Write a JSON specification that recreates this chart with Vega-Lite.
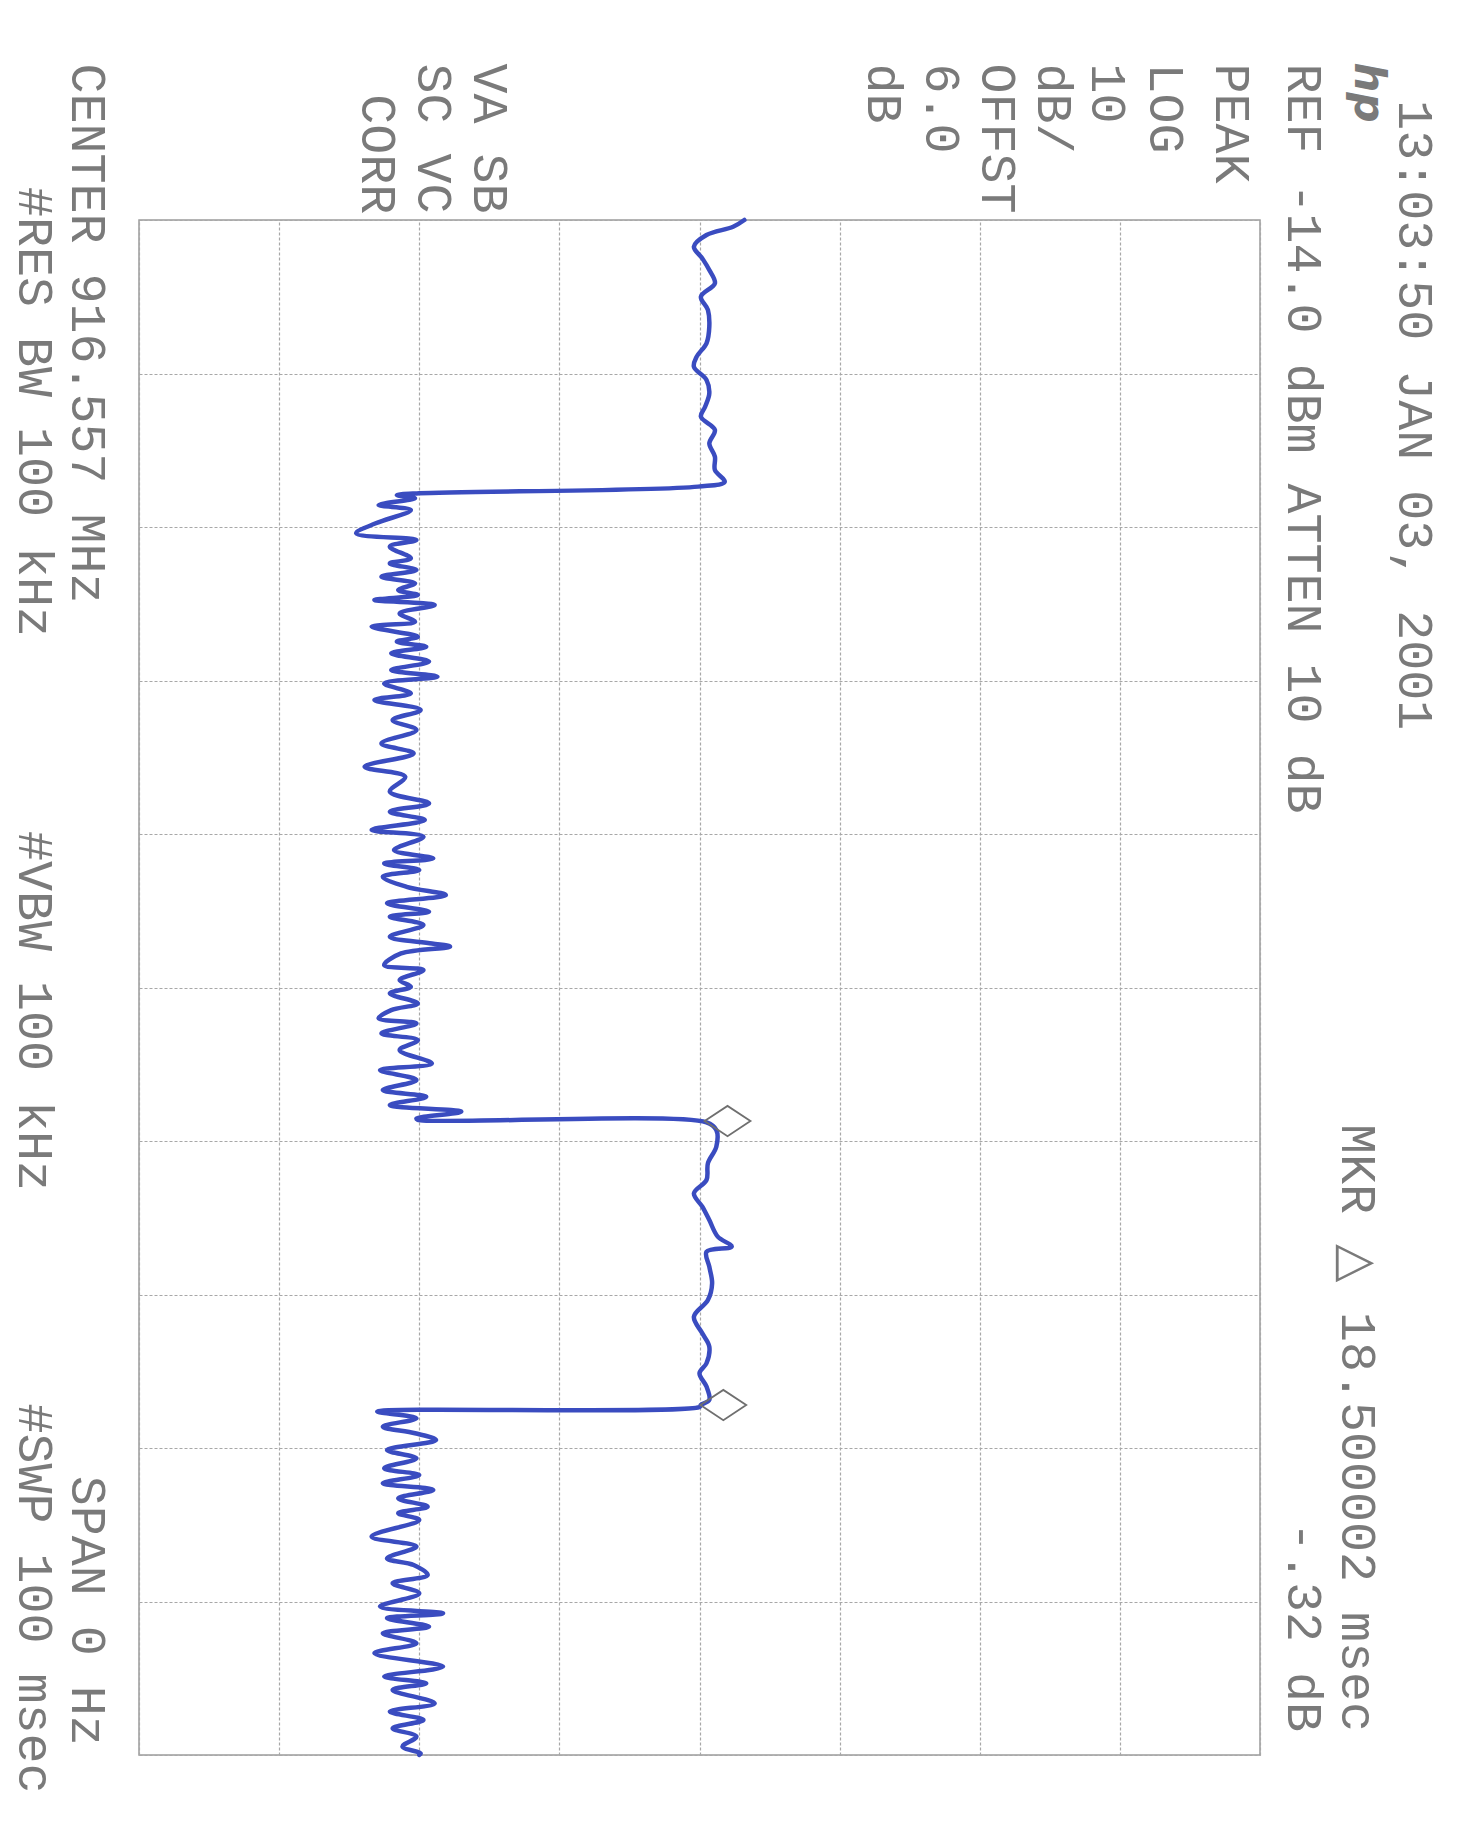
{
  "$schema": "https://vega.github.io/schema/vega-lite/v6.json",
  "width": 1121,
  "height": 1535,
  "autosize": {"type": "none"},
  "padding": {"left": 139, "top": 220, "right": 210, "bottom": 80},
  "background": "white",
  "config": {
    "view": {"stroke": "#9c9c9c", "strokeWidth": 1.5},
    "axis": {
      "labels": false, "ticks": false, "domain": false, "title": null,
      "grid": true, "gridColor": "#a8a8a8", "gridDash": [3, 2], "gridWidth": 1.2
    }
  },
  "datasets": {
    "trace": [
      {"t": 0, "db": -50.8}, {"t": 0.44, "db": -51.6}, {"t": 0.98, "db": -53.5}, {"t": 1.74, "db": -54.4},
      {"t": 2.5, "db": -53.8}, {"t": 3.26, "db": -53.3}, {"t": 4.12, "db": -52.9}, {"t": 5.0, "db": -53.9},
      {"t": 5.86, "db": -53.4}, {"t": 6.95, "db": -53.3}, {"t": 8.03, "db": -53.5}, {"t": 8.9, "db": -54.2},
      {"t": 9.56, "db": -54.4}, {"t": 10.42, "db": -53.5}, {"t": 11.29, "db": -53.3}, {"t": 12.16, "db": -53.6},
      {"t": 12.81, "db": -53.9}, {"t": 13.68, "db": -52.9}, {"t": 14.55, "db": -53.3}, {"t": 15.42, "db": -52.9},
      {"t": 16.29, "db": -52.9}, {"t": 17.05, "db": -52.2}, {"t": 17.37, "db": -54.1}, {"t": 17.8, "db": -74.0},
      {"t": 17.92, "db": -75.6}, {"t": 18.13, "db": -74.3}, {"t": 18.57, "db": -76.9}, {"t": 18.89, "db": -74.6},
      {"t": 19.76, "db": -77.1}, {"t": 20.41, "db": -78.5}, {"t": 20.85, "db": -74.2}, {"t": 21.28, "db": -76.1},
      {"t": 22.04, "db": -74.6}, {"t": 22.37, "db": -76.1}, {"t": 22.8, "db": -74.2}, {"t": 23.24, "db": -76.7},
      {"t": 23.67, "db": -74.3}, {"t": 24.11, "db": -75.5}, {"t": 24.43, "db": -74.1}, {"t": 24.76, "db": -77.2},
      {"t": 25.08, "db": -72.9}, {"t": 25.63, "db": -75.4}, {"t": 26.17, "db": -74.3}, {"t": 26.49, "db": -77.4},
      {"t": 27.15, "db": -74.1}, {"t": 27.47, "db": -75.6}, {"t": 27.8, "db": -73.5}, {"t": 28.23, "db": -76.0},
      {"t": 28.77, "db": -73.3}, {"t": 29.32, "db": -76.0}, {"t": 29.75, "db": -72.7}, {"t": 30.19, "db": -76.5},
      {"t": 30.84, "db": -74.6}, {"t": 31.27, "db": -77.2}, {"t": 31.92, "db": -73.9}, {"t": 32.58, "db": -75.9},
      {"t": 33.23, "db": -74.2}, {"t": 34.1, "db": -76.7}, {"t": 34.75, "db": -74.4}, {"t": 35.62, "db": -77.9},
      {"t": 36.27, "db": -75.0}, {"t": 37.24, "db": -76.1}, {"t": 38.0, "db": -73.3}, {"t": 38.55, "db": -76.1},
      {"t": 39.09, "db": -73.6}, {"t": 39.74, "db": -77.4}, {"t": 40.18, "db": -73.7}, {"t": 41.05, "db": -75.8},
      {"t": 41.59, "db": -73.0}, {"t": 41.92, "db": -76.5}, {"t": 42.35, "db": -74.0}, {"t": 42.78, "db": -76.6},
      {"t": 43.44, "db": -74.9}, {"t": 43.98, "db": -72.1}, {"t": 44.52, "db": -76.3}, {"t": 45.06, "db": -73.3},
      {"t": 45.39, "db": -76.1}, {"t": 45.93, "db": -73.7}, {"t": 46.69, "db": -76.1}, {"t": 47.13, "db": -73.1},
      {"t": 47.34, "db": -71.8}, {"t": 47.78, "db": -75.3}, {"t": 48.54, "db": -76.5}, {"t": 48.86, "db": -73.7},
      {"t": 49.52, "db": -75.4}, {"t": 49.95, "db": -74.6}, {"t": 50.38, "db": -76.1}, {"t": 51.04, "db": -74.1},
      {"t": 51.47, "db": -76.0}, {"t": 52.01, "db": -76.9}, {"t": 52.34, "db": -74.2}, {"t": 52.99, "db": -76.7},
      {"t": 53.43, "db": -74.1}, {"t": 54.08, "db": -75.4}, {"t": 54.95, "db": -73.1}, {"t": 55.38, "db": -76.8},
      {"t": 56.03, "db": -74.2}, {"t": 56.68, "db": -76.6}, {"t": 57.12, "db": -73.5}, {"t": 57.66, "db": -76.1},
      {"t": 58.09, "db": -71.0}, {"t": 58.53, "db": -74.2}, {"t": 58.62, "db": -74.1}, {"t": 58.78, "db": -53.5},
      {"t": 59.28, "db": -52.8}, {"t": 60.37, "db": -52.8}, {"t": 61.45, "db": -53.4}, {"t": 62.54, "db": -53.5},
      {"t": 63.41, "db": -54.4}, {"t": 64.28, "db": -53.8}, {"t": 65.15, "db": -53.3}, {"t": 66.23, "db": -52.7},
      {"t": 66.88, "db": -51.7}, {"t": 67.21, "db": -53.5}, {"t": 68.19, "db": -53.3}, {"t": 69.27, "db": -53.1},
      {"t": 70.36, "db": -53.4}, {"t": 71.45, "db": -54.4}, {"t": 72.53, "db": -53.8}, {"t": 73.4, "db": -53.3},
      {"t": 74.48, "db": -53.5}, {"t": 75.13, "db": -54.0}, {"t": 76.0, "db": -53.5}, {"t": 76.87, "db": -53.3},
      {"t": 77.2, "db": -53.9}, {"t": 77.33, "db": -54.0}, {"t": 77.63, "db": -77.0}, {"t": 78.06, "db": -74.2},
      {"t": 78.61, "db": -76.6}, {"t": 79.04, "db": -74.3}, {"t": 79.48, "db": -72.8}, {"t": 80.13, "db": -76.3},
      {"t": 80.67, "db": -74.2}, {"t": 81.32, "db": -76.5}, {"t": 81.76, "db": -74.0}, {"t": 82.3, "db": -76.6},
      {"t": 82.73, "db": -73.0}, {"t": 83.28, "db": -75.5}, {"t": 83.82, "db": -73.4}, {"t": 84.25, "db": -75.5},
      {"t": 84.69, "db": -74.0}, {"t": 85.77, "db": -77.4}, {"t": 86.42, "db": -74.2}, {"t": 87.19, "db": -76.3},
      {"t": 87.62, "db": -74.4}, {"t": 88.27, "db": -73.4}, {"t": 88.81, "db": -75.9}, {"t": 89.47, "db": -74.0},
      {"t": 90.33, "db": -76.8}, {"t": 90.77, "db": -72.3}, {"t": 91.09, "db": -76.3}, {"t": 91.64, "db": -73.3},
      {"t": 92.07, "db": -76.6}, {"t": 92.72, "db": -74.2}, {"t": 93.37, "db": -77.2}, {"t": 94.24, "db": -72.3},
      {"t": 94.89, "db": -76.5}, {"t": 95.33, "db": -73.5}, {"t": 95.76, "db": -75.9}, {"t": 96.63, "db": -72.9},
      {"t": 97.17, "db": -76.1}, {"t": 97.72, "db": -73.7}, {"t": 98.26, "db": -75.9}, {"t": 98.8, "db": -74.2},
      {"t": 99.45, "db": -75.2}, {"t": 99.89, "db": -73.9}, {"t": 100, "db": -74.0}
    ],
    "markers": [
      {"t": 58.7, "db": -52.0},
      {"t": 77.2, "db": -52.3}
    ],
    "labels": [
      {"txt": "13:03:50 JAN 03, 2001", "db": -3.0, "t": -7.8},
      {"txt": "REF -14.0 dBm  ATTEN 10 dB", "db": -10.9, "t": -10.2},
      {"txt": "PEAK", "db": -16.1, "t": -10.2},
      {"txt": "LOG", "db": -20.8, "t": -10.2},
      {"txt": "10", "db": -24.9, "t": -10.2},
      {"txt": "dB/", "db": -28.8, "t": -10.2},
      {"txt": "OFFST", "db": -32.8, "t": -10.2},
      {"txt": "6.0", "db": -36.8, "t": -10.2},
      {"txt": "dB", "db": -40.9, "t": -10.2},
      {"txt": "VA SB", "db": -69.0, "t": -10.2},
      {"txt": "SC VC", "db": -73.0, "t": -10.2},
      {"txt": "CORR", "db": -77.0, "t": -8.2},
      {"txt": "CENTER 916.557 MHz", "db": -97.7, "t": -10.2},
      {"txt": "#RES BW 100 kHz", "db": -101.5, "t": -2.15},
      {"txt": "#VBW 100 kHz", "db": -101.5, "t": 39.8},
      {"txt": "SPAN 0 Hz", "db": -97.7, "t": 81.8},
      {"txt": "#SWP 100 msec", "db": -101.5, "t": 77.1}
    ],
    "rlabels": [
      {"txt": "MKR △ 18.500002 msec", "db": -7.1, "t": 98.5},
      {"txt": "-.32 dB", "db": -10.9, "t": 98.5}
    ],
    "logo": [
      {"txt": "hp", "db": -6.3, "t": -8.3}
    ]
  },
  "layer": [
    {
      "data": {"name": "trace"},
      "mark": {"type": "line", "color": "#3a4cc0", "strokeWidth": 4.5, "strokeJoin": "round", "strokeCap": "round",
               "interpolate": "catmull-rom"},
      "encoding": {
        "x": {"field": "db", "type": "quantitative", "scale": {"domain": [-94, -14], "nice": false, "zero": false},
              "axis": {"values": [-94, -84, -74, -64, -54, -44, -34, -24, -14]}},
        "y": {"field": "t", "type": "quantitative", "scale": {"domain": [0, 100], "nice": false, "reverse": true},
              "axis": {"values": [0, 10, 20, 30, 40, 50, 60, 70, 80, 90, 100]}},
        "order": {"field": "t", "type": "quantitative"}
      }
    },
    {
      "data": {"name": "markers"},
      "mark": {"type": "point", "shape": "M-1,0L0,-0.66L1,0L0,0.66Z", "size": 2100, "filled": false,
               "stroke": "#6f6f6f", "strokeWidth": 1.8, "opacity": 1},
      "encoding": {
        "x": {"field": "db", "type": "quantitative"},
        "y": {"field": "t", "type": "quantitative"}
      }
    },
    {
      "data": {"name": "labels"},
      "mark": {"type": "text", "angle": 90, "align": "left", "baseline": "middle",
               "font": "Liberation Mono", "fontSize": 50, "color": "#7a7a7a"},
      "encoding": {
        "x": {"field": "db", "type": "quantitative"},
        "y": {"field": "t", "type": "quantitative"},
        "text": {"field": "txt"}
      }
    },
    {
      "data": {"name": "rlabels"},
      "mark": {"type": "text", "angle": 90, "align": "right", "baseline": "middle",
               "font": "Liberation Mono", "fontSize": 50, "color": "#7a7a7a"},
      "encoding": {
        "x": {"field": "db", "type": "quantitative"},
        "y": {"field": "t", "type": "quantitative"},
        "text": {"field": "txt"}
      }
    },
    {
      "data": {"name": "logo"},
      "mark": {"type": "text", "angle": 90, "align": "center", "baseline": "middle",
               "font": "DejaVu Sans", "fontSize": 42, "fontStyle": "italic", "fontWeight": "bold", "color": "#7a7a7a"},
      "encoding": {
        "x": {"field": "db", "type": "quantitative"},
        "y": {"field": "t", "type": "quantitative"},
        "text": {"field": "txt"}
      }
    }
  ]
}
